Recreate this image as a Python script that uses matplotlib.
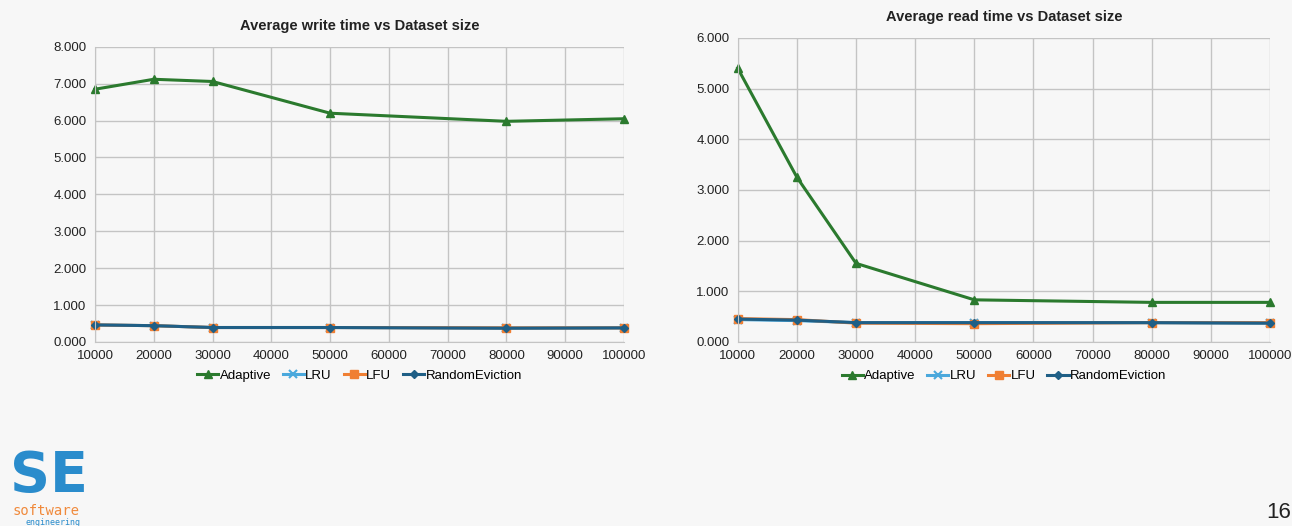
import matplotlib.pyplot as plt
from matplotlib.ticker import FuncFormatter, MultipleLocator

plt.rcParams["font.family"] = ["Liberation Sans", "DejaVu Sans"]

dataset_sizes = [10000, 20000, 30000, 50000, 80000, 100000]

write_adaptive = [6.85, 7.12, 7.06, 6.20, 5.98, 6.05]
write_lru = [0.46, 0.44, 0.39, 0.39, 0.38, 0.38]
write_lfu = [0.46, 0.44, 0.39, 0.39, 0.38, 0.38]
write_random = [0.46, 0.44, 0.39, 0.39, 0.37, 0.38]

read_adaptive = [5.40, 3.25, 1.55, 0.83, 0.78, 0.78]
read_lru = [0.44, 0.42, 0.38, 0.38, 0.38, 0.37]
read_lfu = [0.46, 0.44, 0.37, 0.36, 0.38, 0.38]
read_random = [0.45, 0.43, 0.38, 0.38, 0.38, 0.37]

BG = "#f7f7f7"
GREEN = "#2b7a2e"
LIGHT_BLUE = "#4aa8dc"
ORANGE = "#f07f33"
DARK_BLUE = "#1f5f86"


def draw_panel(ax, title, adaptive, lru, lfu, rnd, ymax):
    ax.set_facecolor(BG)
    style = dict(lw=2.2, clip_on=False)
    ax.plot(dataset_sizes, adaptive, color=GREEN, marker="^", ms=6, label="Adaptive", **style)
    ax.plot(dataset_sizes, lru, color=LIGHT_BLUE, marker="x", ms=6, mew=1.5, label="LRU", **style)
    ax.plot(dataset_sizes, lfu, color=ORANGE, marker="s", ms=6, label="LFU", **style)
    ax.plot(dataset_sizes, rnd, color=DARK_BLUE, marker="D", ms=4.5, label="RandomEviction", **style)

    ax.set_xlim(10000, 100000)
    ax.set_ylim(0, ymax)
    ax.xaxis.set_major_locator(MultipleLocator(10000))
    ax.yaxis.set_major_locator(MultipleLocator(1.0))
    ax.yaxis.set_major_formatter(FuncFormatter(lambda v, _: f"{v:.3f}"))
    ax.grid(True, color="#c4c4c4", lw=1.0)
    ax.set_axisbelow(True)
    for side in ("top", "right"):
        ax.spines[side].set_visible(False)
    for side in ("left", "bottom"):
        ax.spines[side].set_color("#c4c4c4")
    ax.tick_params(length=0, labelsize=9.5, colors="#222222", pad=6)
    ax.set_title(title, fontsize=10.5, fontweight="bold", color="#222222", pad=12)
    ax.legend(loc="upper center", bbox_to_anchor=(0.5, -0.075), ncol=4, frameon=False,
              fontsize=9.5, handlelength=1.6, handletextpad=0.1, columnspacing=0.9,
              borderaxespad=0)


fig = plt.figure(figsize=(12.92, 5.26), dpi=100, facecolor=BG)

ax_write = fig.add_axes([0.0735, 0.350, 0.4095, 0.561])
draw_panel(ax_write, "Average write time vs Dataset size",
           write_adaptive, write_lru, write_lfu, write_random, 8)

ax_read = fig.add_axes([0.571, 0.350, 0.412, 0.578])
draw_panel(ax_read, "Average read time vs Dataset size",
           read_adaptive, read_lru, read_lfu, read_random, 6)

# logo in the lower left corner
fig.text(0.008, 0.0665, "SE", fontsize=40, fontweight="bold", color="#2a8ccc",
         ha="left", va="baseline", family="DejaVu Sans")
fig.text(0.010, 0.0209, "software", fontsize=10, color="#f08a3c", ha="left",
         va="baseline", family="DejaVu Sans Mono")
fig.text(0.020, 0.0019, "engineering", fontsize=6, color="#2a8ccc", ha="left",
         va="baseline", family="DejaVu Sans Mono")

# slide number
fig.text(0.999, 0.005, "16", fontsize=16, color="#222222", ha="right", va="bottom")

fig.savefig("out.png", dpi=100, facecolor=BG)
